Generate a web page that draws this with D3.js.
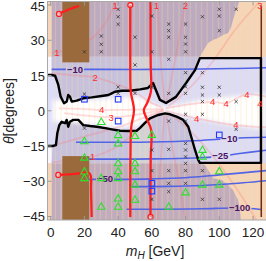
<!DOCTYPE html>
<html><head><meta charset="utf-8">
<script src="https://cdn.jsdelivr.net/npm/d3@7"></script>
<style>body{margin:0;background:#fff}svg{display:block}text{font-family:"Liberation Sans",Arial,sans-serif}</style>
</head><body><svg id="c" width="266" height="261"></svg>
<script>
// ---------- data (mH [GeV], theta [deg]) ----------
const xTicks=[0,20,40,60,80,100,120];
const yTicks=[-45,-30,-15,0,15,30,45];
const bandTop=23, bandBot=-22.3;
const grayTop=[[0.6,46.5],[111.7,46.5],[108.1,38.6],[106.9,35.2],[105.2,33.1],[102.2,32.2],[99.2,31.0],[96.3,30.1],[93.3,28.8],[91.5,26.7],[89.1,23.7],[88.5,23],[0.6,23]];
const grayBottom=[[0.6,-22.3],[88.5,-22.3],[91.5,-23.1],[96.4,-28.7],[101.6,-29.5],[105.2,-31.6],[108.1,-33.7],[111.1,-38.0],[112.3,-42.2],[112.9,-46.5],[0.6,-46.5]];
const blackUpper=[[-2.2,15.2],[0.6,15.2],[2.6,14.9],[4.5,11.0],[5.9,6.0],[7.9,3.2],[9.5,3.9],[10.4,6.7],[11.4,6.0],[12.5,3.9],[15.4,4.3],[19.3,5.3],[24.3,5.7],[30.2,6.3],[34.2,6.7],[36.2,7.4],[38.1,8.1],[42.1,8.5],[47.0,8.5],[53.0,9.1],[57.7,9.7],[60.7,11.8],[64.8,4.6],[68.4,3.3],[74.3,5.9],[80.3,11.8],[85.6,17.3],[88.5,22.4]];
const blackBox=[[124.7,22.4],[124.7,-22.2],[88.5,-22.2]];
const blackLower=[[87.5,-20.9],[85.6,-16.7],[83.6,-11.7],[81.6,-6.8],[78.6,-3.9],[74.7,-2.5],[70.8,-1.5],[67.8,-1.1],[63.8,-1.8],[58.9,-3.2],[55.9,-5.2],[53.0,-7.3],[51.0,-8.5],[46.0,-8.6],[41.1,-8.5],[36.2,-7.9],[33.2,-7.5],[27.3,-6.8],[23.3,-6.5],[19.3,-6.1],[16.4,-3.9],[13.4,-3.9],[11.4,-4.7],[10.4,-6.8],[9.5,-3.9],[8.5,-5.3],[6.5,-4.7],[5.1,-6.1],[3.9,-9.6],[3.1,-14.6],[1.2,-15.0],[-2.2,-15.0]];
const whiteFan=[[1,4.5],[20,4.5],[40,5.5],[52,6],[58,4],[64,2.2],[68,1.5],[75,2.5],[88,4.5],[100,5.5],[115,6.5],[127.7,7.5],[127.7,-8],[110,-6.5],[95,-4.5],[85,-3],[75,-1.5],[68,-0.5],[64,-1],[58,-3],[52,-6.5],[40,-7],[20,-5.5],[1,-4.5]];
const brownTop=[6.9,22.9,20.6,46.5];
const brownBottom=[6.9,22.9,-46.5,-19.3];
const redBand=[47.2,59.2];
const stripes=d3.range(2.8,127.7,10/3);
const pinkCurves=[
 [[63.5,46.5],[64.5,30],[66,15],[67.5,3]],
 [[80,46.5],[76,30],[72,15],[68.5,3]],
 [[124,46.5],[110,35],[95,20],[80,8],[70,2]],
 [[67.5,-1],[66,-15],[64.5,-30],[63.5,-46.5]],
 [[68.5,-1],[72,-15],[76,-30],[80,-46.5]],
 [[70,-1],[82,-8],[97,-20],[112,-35],[122,-46.5]],
 [[68,1],[80,2.5],[96,3.8],[104,3.2],[116,7],[127.7,6]],
 [[68,0],[86.5,-3.2],[110,-6.1],[127.7,-7]],
 [[0.6,24.6],[10,26],[23,30],[33,38],[38.5,46.5]],
 [[0.6,16],[15,15],[26.3,14.2],[40,11],[50,8],[58,4],[66,1.5]],
 [[8,-1],[20,-2],[35.8,-2.8],[48,-2],[60,-0.5],[67,0.5]],
 [[5,1],[18,0.8],[30,0.3],[45,0.4],[60,0.6],[67,0.8]],
 [[0.6,-22],[12,-21],[24.9,-19.6],[40,-15],[52,-8],[62,-2],[67,0]],
 [[0.6,-15],[20,-11],[40,-7],[55,-3],[66,0]]
];
const blueLines=[
 [[0.6,17.6],[30,17.6],[60,17.6],[90,17.8],[110,18],[127.7,18.3]],
 [[15,-13.4],[40,-13.4],[60,-13.3],[85,-12.8],[100,-12.1],[112,-11.6],[127.7,-11.3]],
 [[15,-20.6],[40,-20.6],[60,-20.5],[85,-20.1],[100,-19.4],[112,-18.2],[127.7,-16.8]],
 [[15,-29.2],[40,-29.2],[60,-29.0],[80,-28.5],[100,-27.3],[127.7,-25.5]],
 [[47,-32.3],[70,-32.2],[90,-31.8],[105,-31.2],[127.7,-29.8]],
 [[45,-41.9],[70,-41.9],[90,-41.7],[112,-41.4],[124.7,-42.0]]
];
const blueLabels=[["−10",14.4,17.6],["−10",106,-11.8],["−25",100.6,-19.3],["−50",32.2,-29.1],["−100",112.1,-41.3]];
const redTopLeft=[[16.8,44.6],[11.4,43.3],[4.9,41.2]];
const redBottomLeft=[[4.5,-27.3],[14.4,-26.9],[22.1,-26.3],[23.6,-27.3],[23.9,-33.7],[24.3,-45.2]];
const redLeftV=[[47.2,45],[47.2,20],[47.5,8.1],[49.4,0.3],[47.8,-6.8],[47.3,-20],[47.2,-45.2]];
const redRightV=[[59.2,46.5],[59.3,20],[59.4,8],[57,3],[55.2,0.3],[57,-3.5],[59.6,-8.2],[59.3,-20],[59.2,-45.2]];
const redDots=[[4.9,41.2],[4.5,-27.3],[47.2,45],[59.2,-45.2]];
const brownLine=[[124.9,44.8],[124.9,-45.2]];
const crosses=[[20,25.1],[20,7.1],[20,-7.4],[30,31.8],[30,28.3],[30,25.1],[40,43.2],[40,40],[40,36.8],[40,10.1],[40,7.4],
 [50,31.3],[50,19.5],[50,7.4],[60,40.3],[60,25.1],[60,10],[60,-16.7],[60,-25.5],[60,-37.7],
 [70,36.9],[70,34.1],[70,31.3],[70,21.9],[70,7.4],[70,-4.4],[70,-16.4],[70,-25.5],[70,-30.9],[70,-34.4],
 [80,36.9],[80,31.3],[80,28.4],[80,25.1],[80,16.2],[80,10.2],[80,7.4],[80,-1.5],[80,-4.4],[80,-13.9],[80,-16.7],[80,-19.6],[80,-22.4],[80,-25.5],[80,-30.9],
 [90,40],[90,16.2],[90,10],[90,6.7],[90,3.9],[90,-1.5],[90,-25.5],[90,-37.7],
 [100,43.2],[100,40.3],[100,34.1],[100,10],[100,6.7],[100,-37.7],[110,43.2],[110,3.9],[110,-7.9]];
const triangles=[[30,-4.8],[20,-13],[40,-10.4],[40,-14],[50,-10.8],[60,-10.3],[20,-20],[20,-25.9],[20,-28.7],[40,-22.4],[40,-25.8],[40,-28.7],[30,-28.7],
 [40,-37.4],[40,-40.9],[30,-40.9],[50,-22.4],[50,-25.8],[50,-31.5],[50,-37.9],[70,-40.9],[80,-34.8],[90,-16.7],[90,-19.6],[90,-31.5],[100,-25.8],[100,-31.5]];
const squares=[[20,4.9],[40,4.9],[40,-4.4],[100,-10.3],[60,-30.9],[60,-34.2]];
const redLabels=[["1",3.7,24.6],["1",38.2,44.6],["1",62.7,44.8],["1",24.9,-19.6],["2",26.3,14.2],["2",79.9,44.6],["3",124.1,44.6],["3",35.8,-2.8],
 ["4",30.2,0.3],["4",96.1,3.85],["4",104,3.2],["4",116.3,7.0],["4",124.1,3.2],["4",86.6,-3.2],["4",109.9,-6.1]];

// ---------- drawing ----------
const svg=d3.select("#c");
const x=d3.scaleLinear().domain([-2.2,127.7]).range([47,266]);
const y=d3.scaleLinear().domain([-46.5,46.5]).range([220,1.5]);
const line=d3.line().x(d=>x(d[0])).y(d=>y(d[1]));
const smooth=d3.line().x(d=>x(d[0])).y(d=>y(d[1])).curve(d3.curveCatmullRom);
const poly=p=>line(p)+"Z";
const defs=svg.append("defs");
defs.append("clipPath").attr("id","clip").append("rect").attr("x",47).attr("y",1.5).attr("width",219).attr("height",218.5);
defs.append("filter").attr("id","blur").attr("x","-20%").attr("y","-50%").attr("width","140%").attr("height","200%")
 .append("feGaussianBlur").attr("stdDeviation",2.2);
const g=svg.append("g").attr("clip-path","url(#clip)");
const R=(x0,x1,y0,y1,fill)=>g.append("rect").attr("x",x(x0)).attr("y",y(y1)).attr("width",x(x1)-x(x0)).attr("height",y(y0)-y(y1)).attr("fill",fill);
R(-2.2,127.7,-46.5,46.5,"#f4d5b8");
R(-2.2,0.6,bandBot,bandTop,"#f8f7fd");
R(0.6,127.7,bandBot,bandTop,"#d9d9f5");
g.append("path").attr("d",poly(grayTop)).attr("fill","#bcaac0");
g.append("path").attr("d",poly(grayBottom)).attr("fill","#c0acbc");
const upIn=blackUpper.slice(1);
g.append("path").attr("d",poly([[0.6,bandTop],[88.5,bandTop]].concat(upIn.slice().reverse()))).attr("fill","#c6c1dc");
const lowIn=[[88.5,-22.2]].concat(blackLower.slice(0,-1));
g.append("path").attr("d",poly(lowIn.concat([[0.6,bandBot],[88.5,bandBot]]))).attr("fill","#c6c1dc");
R(redBand[0],redBand[1],bandBot,bandTop,"#d3d1d8");
const interior=blackUpper.concat(blackBox,blackLower);
g.append("path").attr("d",poly(interior)).attr("fill","#dcdcf7");
g.append("path").attr("d",poly(whiteFan)).attr("fill","#ffffff").attr("filter","url(#blur)");
// stripes
g.append("g").selectAll("line").data(stripes).join("line")
 .attr("x1",d=>x(d)).attr("x2",d=>x(d)).attr("y1",y(46.5)).attr("y2",y(-46.5))
 .attr("stroke","#ffdcaa").attr("stroke-opacity",0.3).attr("stroke-width",1.3);
// pink contours
g.append("g").selectAll("path").data(pinkCurves).join("path").attr("d",smooth)
 .attr("fill","none").attr("stroke","#ff7070").attr("stroke-opacity",0.25).attr("stroke-width",1.8);
// blue lines with gaps at labels
const mask=defs.append("mask").attr("id","bm");
mask.append("rect").attr("x",0).attr("y",0).attr("width",266).attr("height",261).attr("fill","#fff");
const bl=g.append("g").attr("mask","url(#bm)");
bl.selectAll("path").data(blueLines).join("path").attr("d",smooth).attr("fill","none").attr("stroke","#5264e6").attr("stroke-width",1.6);
const blt=g.append("g").selectAll("text").data(blueLabels).join("text")
 .attr("x",d=>x(d[1])).attr("y",d=>y(d[2])+3.3).attr("text-anchor","middle")
 .attr("font-size",9.5).attr("font-weight","bold").attr("fill","#4b1464").text(d=>d[0]);
blt.each(function(){const b=this.getBBox();mask.append("rect").attr("x",b.x-1).attr("y",b.y).attr("width",b.width+2).attr("height",b.height).attr("fill","#000");});
// brown rects
R(brownTop[0],brownTop[1],brownTop[2],brownTop[3],"#9b6a3c");
R(brownBottom[0],brownBottom[1],brownBottom[2],brownBottom[3],"#9b6a3c");
// brown vertical line
g.append("path").attr("d",line(brownLine)).attr("stroke","#6e2a12").attr("stroke-width",1.5).attr("fill","none");
// black contour
g.append("path").attr("d",line(interior)).attr("fill","none").attr("stroke","#000").attr("stroke-width",2.4).attr("stroke-linejoin","round");
// red lines
[redTopLeft,redBottomLeft,redLeftV,redRightV].forEach(p=>g.append("path").attr("d",smooth(p)).attr("fill","none").attr("stroke","#ff1e1e").attr("stroke-width",2.3));
g.selectAll("circle.rd").data(redDots).join("circle").attr("cx",d=>x(d[0])).attr("cy",d=>y(d[1])).attr("r",2.5)
 .attr("fill","#ffffff").attr("fill-opacity",0.5).attr("stroke","#ff1e1e").attr("stroke-width",1.3);
// markers
g.append("g").selectAll("path").data(crosses).join("path")
 .attr("d",d=>`M${x(d[0])-1.6},${y(d[1])-1.6}L${x(d[0])+1.6},${y(d[1])+1.6}M${x(d[0])-1.6},${y(d[1])+1.6}L${x(d[0])+1.6},${y(d[1])-1.6}`)
 .attr("stroke","#333").attr("stroke-width",0.8);
g.append("g").selectAll("path").data(triangles).join("path")
 .attr("d",d=>`M${x(d[0])},${y(d[1])-4}L${x(d[0])+3.7},${y(d[1])+2.4}L${x(d[0])-3.7},${y(d[1])+2.4}Z`)
 .attr("fill","none").attr("stroke","#2ee02e").attr("stroke-width",1.1);
g.append("g").selectAll("rect").data(squares).join("rect")
 .attr("x",d=>x(d[0])-2.8).attr("y",d=>y(d[1])-2.8).attr("width",5.6).attr("height",5.6)
 .attr("fill","none").attr("stroke","#2438ff").attr("stroke-width",1.1);
g.append("g").selectAll("text").data(redLabels).join("text")
 .attr("x",d=>x(d[1])).attr("y",d=>y(d[2])+3.3).attr("text-anchor","middle")
 .attr("font-size",9.5).attr("fill","#ff2a2a").text(d=>d[0]);
// frame & axes
svg.append("rect").attr("x",47.5).attr("y",1.5).attr("width",222).attr("height",218.5).attr("fill","none").attr("stroke","#a8a8a8").attr("stroke-width",1);
const ax=svg.append("g").attr("stroke","#999").attr("stroke-width",1);
xTicks.forEach(v=>{ax.append("line").attr("x1",x(v)).attr("x2",x(v)).attr("y1",220).attr("y2",216);
 ax.append("line").attr("x1",x(v)).attr("x2",x(v)).attr("y1",1.5).attr("y2",5.5);});
yTicks.forEach(v=>ax.append("line").attr("x1",47.5).attr("x2",51.5).attr("y1",y(v)).attr("y2",y(v)));
svg.append("g").selectAll("text").data(xTicks).join("text").attr("x",d=>x(d)).attr("y",236.5).attr("text-anchor","middle")
 .attr("font-size",13.5).attr("fill","#222").text(d=>d);
svg.append("g").selectAll("text").data(yTicks).join("text").attr("x",45).attr("y",d=>Math.max(y(d)+5,11)).attr("text-anchor","end")
 .attr("font-size",13).attr("fill","#222").text(d=>d<0?"−"+(-d):d);
const xt=svg.append("text").attr("x",155).attr("y",256).attr("text-anchor","middle").attr("font-size",14).attr("fill","#222");
xt.append("tspan").attr("font-style","italic").text("m");
xt.append("tspan").attr("font-style","italic").attr("font-size",10).attr("dy",3).text("H");
xt.append("tspan").attr("dy",-3).text(" [GeV]");
const yt=svg.append("text").attr("transform","translate(14,111) rotate(-90)").attr("text-anchor","middle").attr("font-size",14).attr("fill","#222");
yt.append("tspan").attr("font-style","italic").text("θ");
yt.append("tspan").text("[degrees]");
</script></body></html>
